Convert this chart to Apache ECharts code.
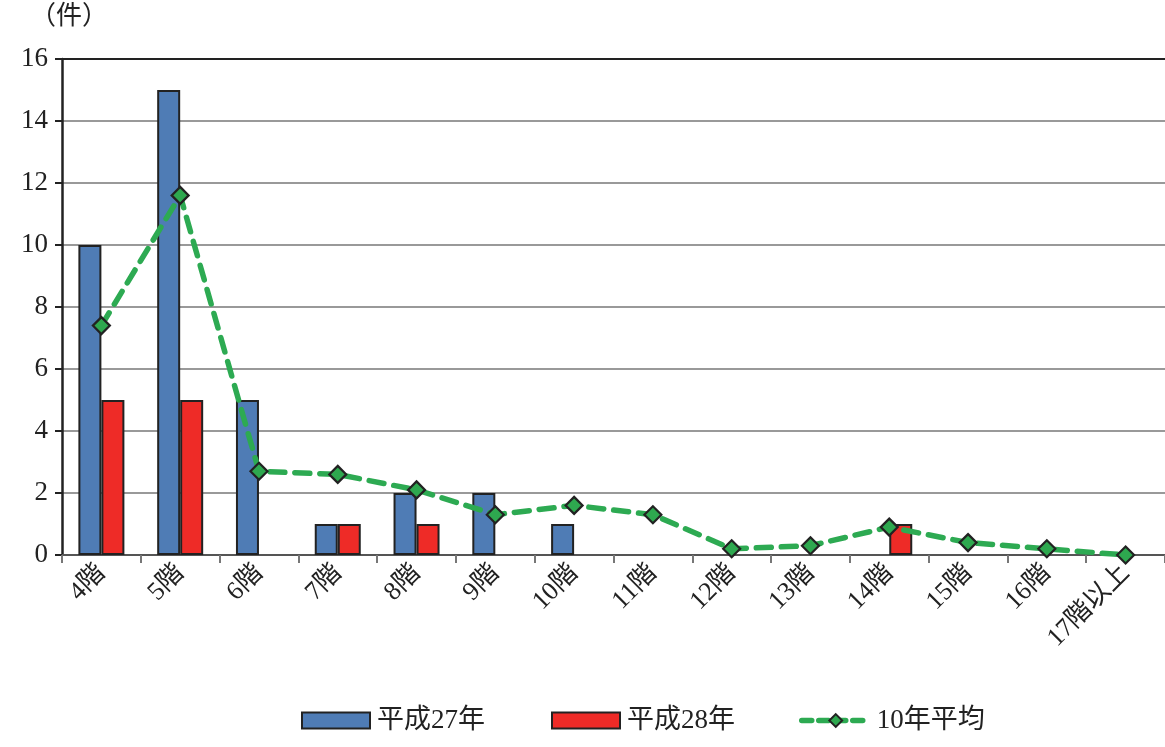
<!DOCTYPE html>
<html>
<head>
<meta charset="utf-8">
<script src="https://cdn.jsdelivr.net/npm/echarts@6/dist/echarts.min.js"></script>
<style>
html,body{margin:0;padding:0;background:#fff;}
#chart{width:1165px;height:747px;}
</style>
</head>
<body>
<div id="chart"></div>
<script>
// Floors
const categories = ['4階','5階','6階','7階','8階','9階','10階','11階','12階','13階','14階','15階','16階','17階以上'];
// Counts per floor
const h27 = [10, 15, 5, 1, 2, 2, 1, 0, 0, 0, 0, 0, 0, 0];
const h28 = [5, 5, 0, 1, 1, 0, 0, 0, 0, 0, 1, 0, 0, 0];
const avg10 = [7.4, 11.6, 2.7, 2.6, 2.1, 1.3, 1.6, 1.3, 0.2, 0.3, 0.9, 0.4, 0.2, 0];
const seriesNames = ['平成27年', '平成28年', '10年平均'];
const yTicks = [0, 2, 4, 6, 8, 10, 12, 14, 16];

const FONT = '"Liberation Serif", "Noto Sans CJK JP", serif';

// zero-count bars are left empty so no outline sits on the axis
const barData = arr => arr.map(v => (v === 0 ? null : v));

const legendText = {fontSize: 27, color: '#222', fontFamily: FONT, padding: [0, 0, 0, 2]};
const legendBase = {bottom: 8, itemWidth: 68, itemHeight: 16, textStyle: legendText};

const chart = echarts.init(document.getElementById('chart'), null, {renderer: 'canvas'});
chart.setOption({
  animation: false,
  backgroundColor: '#fff',
  textStyle: {fontFamily: FONT},
  graphic: [{
    type: 'text', left: 30, top: 4,
    style: {text: '（件）', font: '26px ' + FONT, fill: '#222'}
  }],
  legend: [
    Object.assign({}, legendBase, {left: 296, data: [{name: seriesNames[0], icon: 'rect'}]}),
    Object.assign({}, legendBase, {left: 546, data: [{name: seriesNames[1], icon: 'rect'}]}),
    Object.assign({}, legendBase, {left: 794, data: [{
      name: seriesNames[2],
      lineStyle: {width: 5.5, type: [10, 7], color: '#2DAA52', cap: 'round'}
    }]})
  ],
  grid: {left: 62, right: 0, top: 59, bottom: 192, containLabel: false},
  xAxis: {
    type: 'category',
    data: categories,
    boundaryGap: true,
    axisLine: {lineStyle: {color: '#555', width: 2}},
    axisTick: {show: true, alignWithLabel: false, length: 8, lineStyle: {color: '#777', width: 2}},
    axisLabel: {rotate: 45, fontSize: 26, color: '#222', fontFamily: FONT, margin: 14, interval: 0}
  },
  yAxis: {
    type: 'value',
    min: yTicks[0], max: yTicks[yTicks.length - 1], interval: 2,
    axisLine: {show: true, lineStyle: {color: '#222', width: 2.5}},
    axisTick: {show: true, length: 7, lineStyle: {color: '#222', width: 2}},
    axisLabel: {fontSize: 27, color: '#222', fontFamily: FONT, margin: 14},
    splitLine: {show: true, lineStyle: {color: ['#888','#999','#999','#999','#999','#999','#999','#999','#222'], width: 2}}
  },
  series: [
    {
      name: seriesNames[0], type: 'bar', data: barData(h27),
      barWidth: 23, barGap: '0%',
      itemStyle: {color: '#4F7CB5', borderColor: '#222', borderWidth: 2}
    },
    {
      name: seriesNames[1], type: 'bar', data: barData(h28),
      barWidth: 23, barGap: '0%',
      itemStyle: {color: '#EE2B27', borderColor: '#222', borderWidth: 2}
    },
    {
      name: seriesNames[2], type: 'line', data: avg10,
      symbol: 'diamond', symbolSize: 17,
      lineStyle: {color: '#2DAA52', width: 5.5, type: [15, 10], cap: 'round'},
      itemStyle: {color: '#2EA84F', borderColor: '#222', borderWidth: 2.2},
      z: 5
    }
  ]
});
</script>
</body>
</html>
